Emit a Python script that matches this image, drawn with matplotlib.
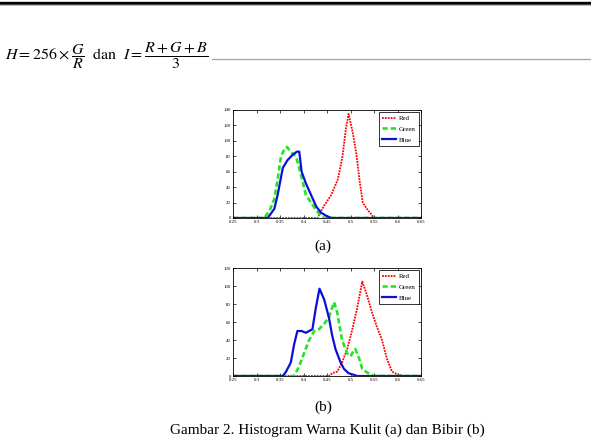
import numpy as np
import matplotlib
matplotlib.use("Agg")
import matplotlib.pyplot as plt

plt.rcParams['mathtext.fontset'] = 'stix'
plt.rcParams['font.family'] = 'Liberation Serif'

# --- histogram (a): warna kulit ---
a_red_x = [0.25, 0.30, 0.43, 0.438, 0.445, 0.459, 0.473, 0.483, 0.490, 0.496,
           0.505, 0.512, 0.519, 0.526, 0.537, 0.544, 0.55, 0.65]
a_red_y = [0, 0, 0, 10, 17, 30, 50, 80, 115, 135, 110, 85, 50, 20, 10, 5, 0, 0]

a_green_x = [0.25, 0.317, 0.328, 0.338, 0.345, 0.352, 0.360, 0.365, 0.374, 0.384,
             0.395, 0.405, 0.416, 0.427, 0.437, 0.444, 0.65]
a_green_y = [0, 0, 10, 25, 50, 80, 90, 92, 85, 80, 55, 30, 20, 10, 3, 0, 0]

a_blue_x = [0.25, 0.324, 0.338, 0.345, 0.356, 0.366, 0.377, 0.386, 0.391, 0.396,
            0.405, 0.416, 0.427, 0.437, 0.448, 0.459, 0.65]
a_blue_y = [0, 0, 12, 30, 65, 75, 82, 86, 86, 60, 45, 30, 15, 7, 3, 0, 0]

# --- histogram (b): warna bibir ---
b_red_x = [0.25, 0.398, 0.454, 0.461, 0.472, 0.482, 0.493, 0.503, 0.514, 0.525,
           0.535, 0.546, 0.556, 0.567, 0.577, 0.588, 0.599, 0.613, 0.65]
b_red_y = [0, 0, 0, 3, 5, 15, 30, 50, 75, 105, 90, 70, 55, 40, 20, 5, 2, 0, 0]

b_green_x = [0.25, 0.38, 0.39, 0.401, 0.412, 0.423, 0.433, 0.444, 0.454, 0.465,
             0.472, 0.482, 0.493, 0.50, 0.507, 0.51, 0.518, 0.525, 0.535, 0.549, 0.65]
b_green_y = [0, 0, 10, 25, 40, 50, 52, 58, 65, 82, 70, 40, 25, 22, 28, 30, 20, 8, 4, 0, 0]

b_blue_x = [0.25, 0.356, 0.363, 0.373, 0.38, 0.387, 0.396, 0.405, 0.412, 0.419,
            0.426, 0.434, 0.444, 0.454, 0.461, 0.468, 0.479, 0.486, 0.496, 0.503,
            0.514, 0.65]
b_blue_y = [0, 0, 5, 15, 35, 50, 50, 48, 50, 52, 75, 97, 85, 65, 45, 30, 15, 8, 3, 2, 0, 0]

xticks = [0.25, 0.3, 0.35, 0.4, 0.45, 0.5, 0.55, 0.6, 0.65]
xlabels = ['0.25', '0.3', '0.35', '0.4', '0.45', '0.5', '0.55', '0.6', '0.65']

W, H = 591, 438
fig = plt.figure(figsize=(W / 100, H / 100), dpi=100)

# page background bits: top rule, formula, dotted leader
bg = fig.add_axes([0, 0, 1, 1])
bg.set_xlim(0, W)
bg.set_ylim(H, 0)
bg.axis('off')
bg.plot([0, W], [2.5, 2.5], color='black', lw=2.4)
bg.plot([0, W], [5, 5], color='#999999', lw=1.2, alpha=0.5)
bg.text(5, 56, r'$H = 256\times\dfrac{G}{R}\ \ \mathrm{dan}\ \ I = \dfrac{R+G+B}{3}$',
        fontsize=11.5, va='center', ha='left')
bg.plot([212, W], [59, 59], color='#333333', lw=0.9, ls=(0, (0.7, 0.9)))
bg.text(323, 246, '(a)', fontsize=11, ha='center', va='center')
bg.text(323, 407, '(b)', fontsize=11, ha='center', va='center')
bg.text(327, 430, 'Gambar 2. Histogram Warna Kulit (a) dan Bibir (b)',
        fontsize=11, ha='center', va='center')


def hist_axes(rect, ymax, data):
    ax = fig.add_axes(rect)
    rx, ry, gx, gy, bx, by = data
    ax.plot(rx, ry, color='red', lw=1.3, ls=(0, (1, 0.6)), label='Red')
    ax.plot(gx, gy, color='#22e622', lw=1.9, ls=(0, (2, 1.1)), label='Green')
    ax.plot(bx, by, color='#0a10d8', lw=1.6, label='Blue')
    ax.set_xlim(0.25, 0.65)
    ax.set_ylim(0, ymax)
    ax.set_xticks(xticks)
    ax.set_xticklabels(xlabels)
    ax.set_yticks(np.arange(0, ymax + 1, 20))
    ax.tick_params(direction='in', top=True, right=True, length=2, width=0.5,
                   labelsize=3.5, pad=1.5)
    for s in ax.spines.values():
        s.set_linewidth(0.6)
    leg = ax.legend(loc='upper right', fontsize=5, handlelength=2.0,
                    frameon=True, fancybox=False, borderpad=0.5,
                    labelspacing=0.7, handletextpad=0.4, borderaxespad=0.25)
    leg.get_frame().set_edgecolor('black')
    leg.get_frame().set_linewidth(0.7)
    return ax


hist_axes([233 / W, 1 - 218 / H, 188 / W, 108 / H], 140,
          (a_red_x, a_red_y, a_green_x, a_green_y, a_blue_x, a_blue_y))
hist_axes([233 / W, 1 - 376 / H, 188 / W, 108 / H], 120,
          (b_red_x, b_red_y, b_green_x, b_green_y, b_blue_x, b_blue_y))

fig.savefig('out.png', dpi=100)
